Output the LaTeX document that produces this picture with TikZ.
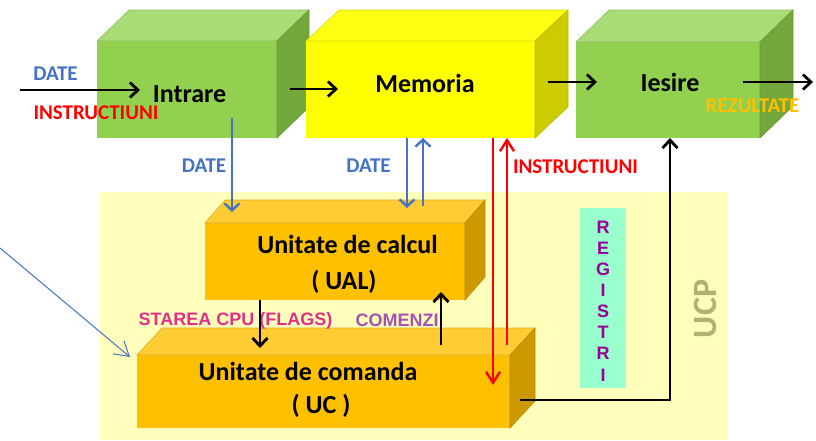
\documentclass[tikz,border=0pt]{standalone}
\usepackage{fontspec}
\setmainfont{Carlito}
\newfontfamily\arialf{Liberation Sans}
\usetikzlibrary{arrows.meta,calc}
\definecolor{grF}{RGB}{146,208,80}
\definecolor{grT}{RGB}{170,220,118}
\definecolor{grS}{RGB}{116,168,60}
\definecolor{yeF}{RGB}{255,255,0}
\definecolor{yeT}{RGB}{255,255,20}
\definecolor{yeS}{RGB}{204,204,0}
\definecolor{orF}{RGB}{255,192,0}
\definecolor{orT}{RGB}{255,204,51}
\definecolor{orS}{RGB}{204,154,0}
\definecolor{ucpbg}{RGB}{255,255,187}
\definecolor{regbg}{RGB}{153,255,204}
\definecolor{regc}{RGB}{153,0,153}
\definecolor{ucpc}{RGB}{178,178,112}
\definecolor{bluec}{RGB}{68,114,196}
\definecolor{redc}{RGB}{255,0,0}
\definecolor{rezc}{RGB}{255,192,0}
\definecolor{starc}{RGB}{224,48,136}
\definecolor{comc}{RGB}{166,82,181}
\newcommand\cubfaces[5]{%
  \filldraw[fill=#4,draw=#4!85!black,line width=0.6pt] (#1.north west) -- ++(#2,-#3) -- ($(#1.north east)+(#2,-#3)$) -- (#1.north east) -- cycle;
  \filldraw[fill=#5,draw=#5!90!black,line width=0.6pt] (#1.north east) -- ++(#2,-#3) -- ($(#1.south east)+(#2,-#3)$) -- (#1.south east) -- cycle;}
\begin{document}
\begin{tikzpicture}[x=1pt,y=-1pt,
  face/.style={rectangle,inner sep=0,outer sep=0},
  big/.style={anchor=base,inner sep=0,font=\fontsize{26}{30}\selectfont\bfseries},
  lbl/.style={anchor=base,inner sep=0,font=\fontsize{21}{24}\selectfont\bfseries},
  ar/.style={anchor=base,inner sep=0,font=\arialf\fontsize{18}{20}\selectfont\bfseries},
  blk/.style={line width=2.5pt,-{Straight Barb[length=8pt,width=15pt,line width=2.8pt]}},
  bla/.style={line width=2.2pt,draw=bluec,-{Straight Barb[length=7pt,width=15pt,line width=2.4pt]}},
  rda/.style={line width=2.2pt,draw=redc,-{Straight Barb[length=11pt,width=14pt,line width=2.4pt]}},
]
\useasboundingbox (0,0) rectangle (816,440);
% UCP background
\fill[ucpbg] (100,192) rectangle (727,440);
\node[face,fill=regbg,minimum width=46pt,minimum height=180pt] (reg) at (603,298) {};
% boxes
\node[face,fill=grF,minimum width=180pt,minimum height=97pt] (intr) at (187,89.5) {};
\cubfaces{intr}{32}{31}{grT}{grS}
\node[face,fill=yeF,minimum width=229pt,minimum height=97pt] (mem) at (420.5,89.5) {};
\cubfaces{mem}{33}{31}{yeT}{yeS}
\node[face,fill=grF,minimum width=184pt,minimum height=96pt] (ies) at (668,90) {};
\cubfaces{ies}{33}{32}{grT}{grS}
\node[face,fill=orF,minimum width=260pt,minimum height=77pt] (ual) at (335,261.5) {};
\cubfaces{ual}{20}{23}{orT}{orS}
\node[face,fill=orF,minimum width=373pt,minimum height=73pt] (uc) at (323.5,391.5) {};
\cubfaces{uc}{25}{27}{orT}{orS}
% box texts
\node[big] (tIntr) at (189.5,102) {Intrare};
\node[big] (tMem) at (425,92) {Memoria};
\node[big] (tIes) at (670,91) {Iesire};
\node[big] (tUal1) at (347.5,253) {Unitate de calcul};
\node[big] (tUal2) at (344,289) {( UAL)};
\node[big] (tUc1) at (308,380) {Unitate de comanda};
\node[big] (tUc2) at (321,413) {( UC )};
% labels
\node[lbl,text=bluec] (lDate1) at (55.5,80) {DATE};
\node[lbl,text=redc] (lInstr1) at (96,119) {INSTRUCTIUNI};
\node[lbl,text=rezc] (lRez) at (752.5,112) {REZULTATE};
\node[lbl,text=bluec] (lDate2) at (204,172) {DATE};
\node[lbl,text=bluec] (lDate3) at (368.5,172) {DATE};
\node[lbl,text=redc] (lInstr2) at (575.5,173) {INSTRUCTIUNI};
\node[ar,text=starc] (lStar) at (235.5,325) {STAREA CPU (FLAGS)};
\node[ar,text=comc] (lCom) at (397,326) {COMENZI};
\foreach \l [count=\i] in {R,E,G,I,S,T,R,I}
  \node[ar,text=regc] (reg\i) at (603,{233+21.15*(\i-1)}) {\l};
\node[rotate=90,inner sep=0,font=\fontsize{34}{36}\selectfont\bfseries,text=ucpc] (ucp) at (705,309) {UCP};
% coordinates
\coordinate (inS) at (20,90);
\coordinate (inE) at (140,90);
\coordinate (imS) at (290,89);
\coordinate (imE) at (338,89);
\coordinate (miS) at (548,82);
\coordinate (miE) at (597,82);
\coordinate (outS) at (743,82);
\coordinate (outE) at (813,82);
\coordinate (b1S) at (232,118);
\coordinate (b1E) at (232,212);
\coordinate (b2S) at (407,138);
\coordinate (b2E) at (407,208);
\coordinate (b3S) at (423,206);
\coordinate (b3E) at (423,138);
\coordinate (r1S) at (493,138);
\coordinate (r1E) at (493,385);
\coordinate (r2S) at (507,345);
\coordinate (r2E) at (507,138);
\coordinate (ucS) at (520,400);
\coordinate (iesB) at (670,138);
\coordinate (fS) at (260,300);
\coordinate (fE) at (260,348);
\coordinate (cS) at (441,345);
\coordinate (cE) at (441,292);
\coordinate (tS) at (0,248);
\coordinate (tE) at (130,357);
% arrows
\draw[blk] (inS) -- (inE);
\draw[blk] (imS) -- (imE);
\draw[blk] (miS) -- (miE);
\draw[blk] (outS) -- (outE);
\draw[bla] (b1S) -- (b1E);
\draw[bla] (b2S) -- (b2E);
\draw[bla] (b3S) -- (b3E);
\draw[rda] (r1S) -- (r1E);
\draw[rda] (r2S) -- (r2E);
\draw[blk,line width=2.2pt] (ucS) -| (iesB);
\draw[blk] (fS) -- (fE);
\draw[blk] (cS) -- (cE);
\draw[draw=bluec,line width=1pt,-{Straight Barb[length=14pt,width=17pt]}] (tS) -- (tE);
\end{tikzpicture}
\end{document}
